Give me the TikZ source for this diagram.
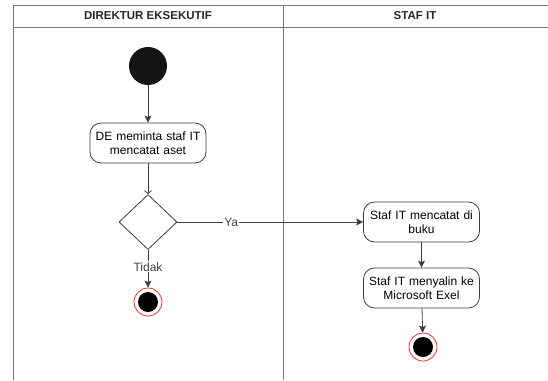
\documentclass[tikz,border=0pt]{standalone}
\usepackage{fontspec}
\setmainfont{Liberation Sans}
\usetikzlibrary{shapes.geometric,positioning,arrows.meta}
\definecolor{lanegray}{RGB}{120,120,120}
\definecolor{linegray}{RGB}{60,60,60}
\definecolor{endred}{RGB}{255,45,45}

\begin{document}
\begin{tikzpicture}[x=1pt, y=-1pt, font=\fontsize{12}{14}\selectfont,
    actbox/.style={rectangle, draw=linegray, line width=0.8pt, rounded corners=11pt,
        minimum width=116pt, minimum height=40pt, align=center, text width=114pt, inner sep=1pt},
    startdot/.style={circle, fill=black!92, minimum size=38pt, inner sep=0pt},
    enddot/.style={circle, draw=endred, line width=0.8pt, fill=white, minimum size=28pt, inner sep=0pt,
        path picture={\fill[black] (path picture bounding box.center) circle (10pt);}},
    decision/.style={diamond, draw=linegray, line width=0.8pt, minimum width=58pt, minimum height=55pt, inner sep=0pt},
    flow/.style={draw=linegray, line width=0.8pt, -{Stealth[length=7pt, width=7pt, inset=1.5pt]}},
    headtext/.style={font=\fontsize{11.5}{13}\selectfont\bfseries, text=black!85}]

    \useasboundingbox (0,0) rectangle (548,380);

    % Swimlane frame
    \draw[lanegray, line width=1pt] (13,380) -- (13,5) -- (560,5);
    \draw[lanegray, line width=1pt] (13,27) -- (560,27);
    \draw[lanegray, line width=1pt] (283,5) -- (283,380);
    \node[headtext] (headDE) at (148,16) {DIREKTUR EKSEKUTIF};
    \node[headtext] (headIT) at (415,16) {STAF IT};

    % Direktur Eksekutif lane
    \node[startdot] (start) at (148,66) {};
    \node[actbox] (minta) at (148,143) {DE meminta staf IT\\mencatat aset};
    \node[decision] (cek) at (148,222) {};
    \node[enddot] (endDE) at (148,302) {};

    % Staf IT lane
    \node[actbox] (catat) at (421.5,222) {Staf IT mencatat di\\buku};
    \node[actbox] (salin) at (421.5,288) {Staf IT menyalin ke\\Microsoft Exel};
    \node[enddot] (endIT) at (423,347) {};

    % Connectors
    \draw[flow] (start) -- (minta);
    \draw[draw=linegray, line width=0.8pt, -{Straight Barb[length=3pt, width=7pt]}] (minta) -- (cek);
    \draw[flow] (cek) -- node[pos=0.29, fill=white, inner sep=1pt, text=black!75] {Ya} (catat);
    \draw[flow] (cek) -- node[pos=0.45, fill=white, inner sep=1pt, text=black!75] {Tidak} (endDE);
    \draw[flow] (catat) -- (salin);
    \draw[flow] (salin) -- (endIT);
\end{tikzpicture}
\end{document}
